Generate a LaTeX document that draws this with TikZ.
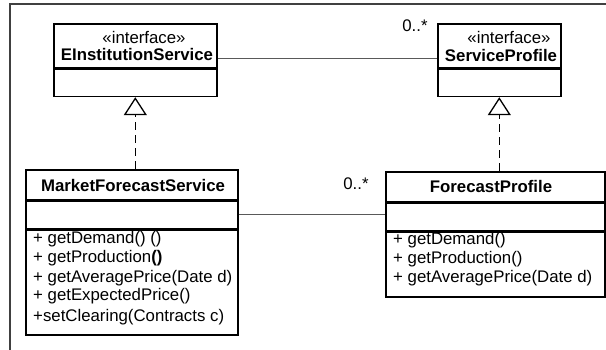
\documentclass[tikz,border=0pt]{standalone}
\usepackage{fontspec}
\setmainfont{Liberation Sans}
\usetikzlibrary{arrows.meta, positioning}

\tikzset{
  part/.style={draw, line width=1.6pt, inner sep=0pt, anchor=north west},
  umlname/.style={font=\fontsize{16.8}{19}\selectfont\bfseries},
  op/.style={anchor=west, inner sep=0pt},
  assoc/.style={line width=1pt, black!65},
  realize/.style={line width=1.3pt, dash pattern=on 8pt off 5pt, -{Triangle[open, length=18pt, width=23pt]}}
}

\begin{document}
\begin{tikzpicture}[x=1pt, y=-1pt, font=\fontsize{16.8}{19}\selectfont]
\useasboundingbox (0,0) rectangle (606,350);

%%%%%%%%%%%%%%%%%%%
% frame
\draw [line width=1.2pt, black!75] (606,4) -- (10,4) -- (10,350);

%%%%%%%%%%%%%%%%%%%
% interfaces
\node [part, minimum width=163pt, minimum height=44pt] (eis) at (53,23) {};
\node [part, minimum width=163pt, minimum height=27pt, below=0pt of eis] (eis-attr) {};
\node (eis-st) at (144,37) {«interface»};
\node [umlname] (eis-name) at (137,54) {EInstitutionService};

\node [part, minimum width=123pt, minimum height=44pt] (sp) at (437,23) {};
\node [part, minimum width=123pt, minimum height=27pt, below=0pt of sp] (sp-attr) {};
\node (sp-st) at (509,37) {«interface»};
\node [umlname] (sp-name) at (501,55) {ServiceProfile};

%%%%%%%%%%%%%%%%%%%
% classes
\node [part, minimum width=212pt, minimum height=30pt] (mfs) at (25,169) {};
\node [part, minimum width=212pt, minimum height=27pt, below=0pt of mfs] (mfs-attr) {};
\node [part, minimum width=212pt, minimum height=105pt, below=0pt of mfs-attr] (mfs-ops) {};
\node [umlname] (mfs-name) at (133,185) {MarketForecastService};
\node [op] (mfs-op1) at (33,239) {+ getDemand() ()};
\node [op] (mfs-op2) at (33,258) {+ getProduction\textbf{()}};
\node [op] (mfs-op3) at (33,278) {+ getAveragePrice(Date d)};
\node [op] (mfs-op4) at (33,296) {+ getExpectedPrice()};
\node [op] (mfs-op5) at (33,317) {+setClearing(Contracts c)};

\node [part, minimum width=219pt, minimum height=30pt] (fp) at (385,171) {};
\node [part, minimum width=219pt, minimum height=27pt, below=0pt of fp] (fp-attr) {};
\node [part, minimum width=219pt, minimum height=65pt, below=0pt of fp-attr] (fp-ops) {};
\node [umlname] (fp-name) at (491,186) {ForecastProfile};
\node [op] (fp-op1) at (393,240) {+ getDemand()};
\node [op] (fp-op2) at (393,259) {+ getProduction()};
\node [op] (fp-op3) at (393,278) {+ getAveragePrice(Date d)};

%%%%%%%%%%%%%%%%%%%
% associations
\draw [assoc] ([yshift=-36pt]eis.north east) -- ([yshift=-36pt]sp.north west);
\draw [assoc] (mfs-attr.east) -- (fp-attr.west |- mfs-attr.east);

\node (sp-mult) at (415,26) {0..*};
\node (fp-mult) at (356,184) {0..*};

%%%%%%%%%%%%%%%%%%%
% realizations
\draw [realize] (eis-attr.south |- mfs.north) -- (eis-attr.south);
\draw [realize] (sp-attr.south |- fp.north) -- (sp-attr.south);

\end{tikzpicture}
\end{document}
